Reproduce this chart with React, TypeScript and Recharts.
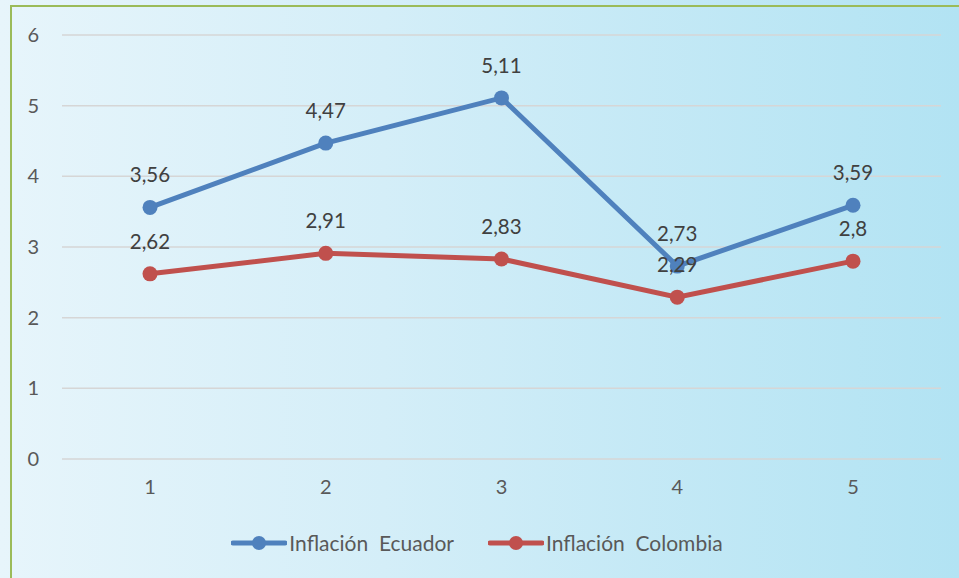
import { LineChart, Line, XAxis, YAxis, CartesianGrid, LabelList } from 'recharts';

const periods = ['1', '2', '3', '4', '5'];
const ecuador = [3.56, 4.47, 5.11, 2.73, 3.59];
const colombia = [2.62, 2.91, 2.83, 2.29, 2.8];
const yTicks = [0, 1, 2, 3, 4, 5, 6];

const series = [
  { key: 'ecuador', name: 'Inflación  Ecuador', color: '#4F81BD' },
  { key: 'colombia', name: 'Inflación  Colombia', color: '#C0504D' },
];

const data = periods.map((p, i) => ({ period: p, ecuador: ecuador[i], colombia: colombia[i] }));

const FONT = 'Lato, "Open Sans", sans-serif';

const fmt = (v: any) => String(v).replace('.', ',');

function LegendBox() {
  return (
    <div
      style={{
        position: 'absolute',
        left: 0,
        top: 530,
        width: 954,
        display: 'flex',
        justifyContent: 'center',
        gap: 34,
        fontFamily: FONT,
        fontSize: 21,
        color: '#595959',
      }}
    >
      {series.map((s) => (
        <div key={s.key} style={{ display: 'flex', alignItems: 'center' }}>
          <svg width={56} height={18} style={{ marginRight: 2 }}>
            <line x1={2} y1={9} x2={54} y2={9} stroke={s.color} strokeWidth={5} strokeLinecap="round" />
            <circle cx={28} cy={9} r={7} fill={s.color} />
          </svg>
          <span style={{ whiteSpace: 'pre' }}>{s.name}</span>
        </div>
      ))}
    </div>
  );
}

export default function App() {
  return (
    <div
      style={{
        position: 'fixed',
        left: 0,
        top: 0,
        width: 959,
        height: 578,
        overflow: 'hidden',
        background: 'linear-gradient(to right, #e7f5fb 0%, #d4eef8 40%, #b2e3f3 100%)',
      }}
    >
      <div style={{ position: 'absolute', left: 10, top: 5, width: 2, height: 600, background: '#9BBB59' }} />
      <div style={{ position: 'absolute', left: 10, top: 5, width: 1000, height: 2, background: '#9BBB59' }} />
      {/* plot area: x 62..941, y 35..459 (x-axis height 30 sits below margin) */}
      <LineChart width={959} height={578} data={data} margin={{ top: 35, right: 18, bottom: 89, left: 0 }}>
        <CartesianGrid vertical={false} stroke="#d6d6d6" strokeWidth={1.5} />
        <XAxis
          dataKey="period"
          height={30}
          axisLine={false}
          tickLine={false}
          tickSize={0}
          tickMargin={21}
          padding={{ left: 88, right: 88 }}
          tick={{ fill: '#595959', fontSize: 20, fontFamily: FONT }}
        />
        <YAxis
          width={62}
          domain={[0, 6]}
          ticks={yTicks}
          axisLine={false}
          tickLine={false}
          tickSize={0}
          tickMargin={23}
          tick={{ fill: '#595959', fontSize: 20, fontFamily: FONT }}
        />
        {series.map((s) => (
          <Line
            key={s.key}
            dataKey={s.key}
            name={s.name}
            stroke={s.color}
            strokeWidth={5}
            dot={{ r: 7.5, fill: s.color, stroke: s.color, strokeWidth: 0 }}
            isAnimationActive={false}
          >
            <LabelList
              dataKey={s.key}
              position="top"
              offset={25}
              formatter={fmt}
              style={{ fill: '#404040', fontSize: 20.5, fontFamily: FONT }}
            />
          </Line>
        ))}
      </LineChart>
      <LegendBox />
    </div>
  );
}
